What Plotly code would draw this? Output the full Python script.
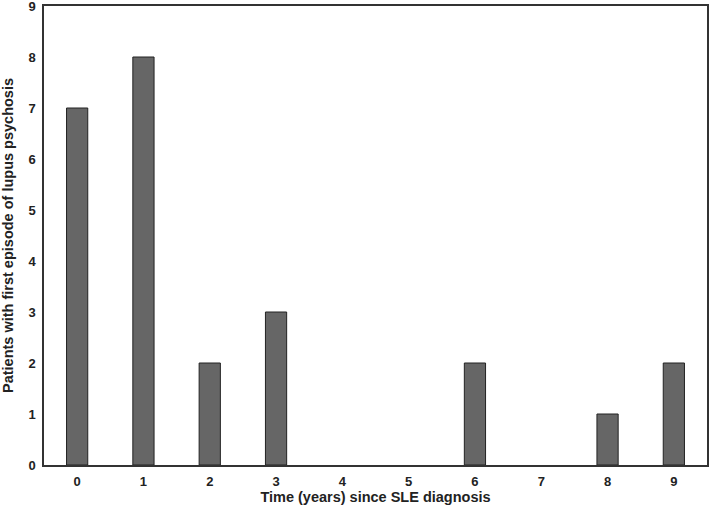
import plotly.graph_objects as go

years = [0, 1, 2, 3, 4, 5, 6, 7, 8, 9]
patients = [7, 8, 2, 3, 0, 0, 2, 0, 1, 2]

# empty years get no bar at all (no zero-height outline)
bar_heights = [p if p > 0 else None for p in patients]

fig = go.Figure()

fig.add_trace(go.Bar(
    x=years,
    y=bar_heights,
    width=0.32,
    marker=dict(color="#666666", line=dict(color="#222222", width=1)),
))

fig.update_layout(
    width=709,
    height=508,
    margin=dict(l=44, r=2, t=6, b=43),
    plot_bgcolor="white",
    paper_bgcolor="white",
    showlegend=False,
    font=dict(family="Liberation Sans, Arial, sans-serif", color="#222222"),
)

fig.update_xaxes(
    range=[-0.5, 9.5],
    tickmode="array",
    tickvals=years,
    ticktext=[f"<b>{y}</b>" for y in years],
    tickfont=dict(size=13),
    title=dict(text="<b>Time (years) since SLE diagnosis</b>", font=dict(size=14.5), standoff=2),
    showline=True, linecolor="#333333", linewidth=1.5, mirror=True,
    showgrid=False, zeroline=False, ticks="",
    ticklabelstandoff=4,
    automargin=False,
)

fig.update_yaxes(
    range=[0, 9],
    tickmode="array",
    tickvals=list(range(10)),
    ticktext=[f"<b>{i}</b>" for i in range(10)],
    tickfont=dict(size=13),
    title=dict(text="<b>Patients with first episode of lupus psychosis</b>", font=dict(size=14.5), standoff=12),
    showline=True, linecolor="#333333", linewidth=1.5, mirror=True,
    showgrid=False, zeroline=False, ticks="",
    ticklabelstandoff=4,
    ticklabeloverflow="allow",
    automargin=False,
)

# drop the browser's default body margin so the figure sits at the page corner
fig.write_html(
    "out.html",
    config={"displayModeBar": False},
    post_script="document.body.style.margin='0';",
)
